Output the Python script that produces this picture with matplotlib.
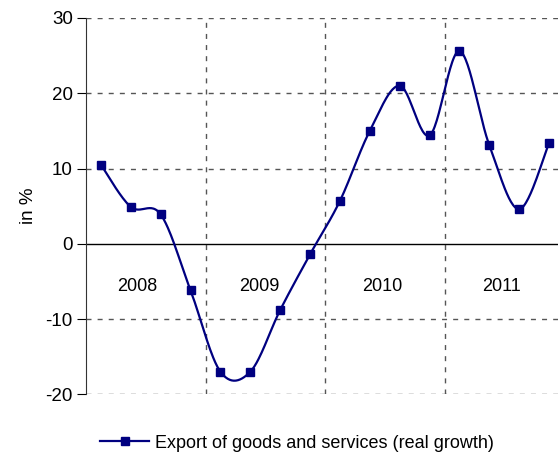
import numpy as np
import matplotlib
matplotlib.use("Agg")
import matplotlib.pyplot as plt
from matplotlib import font_manager

# quarterly real growth of exports, 2008Q1 - 2011Q4
quarters = list(range(16))
export_growth = [10.5, 4.9, 3.9, -6.2, -17.0, -17.0, -8.8, -1.4,
                 5.7, 15.0, 21.0, 14.4, 25.6, 13.1, 4.6, 13.4]
years = ["2008", "2009", "2010", "2011"]
year_label_x = [1.2, 5.3, 9.4, 13.4]
yticks = [-20, -10, 0, 10, 20, 30]
series_name = "Export of goods and services (real growth)"

names = {f.name for f in font_manager.fontManager.ttflist}
fam = [f for f in ["Liberation Sans Narrow", "Liberation Sans"] if f in names] + ["DejaVu Sans"]
plt.rcParams["font.family"] = fam
plt.rcParams["axes.unicode_minus"] = False


def smooth(x, y, n=30):
    # excel-like smoothed line (bezier through points, catmull-rom control points)
    p = np.column_stack([x, y]).astype(float)
    pp = np.vstack([p[0], p, p[-1]])
    out = []
    t = np.linspace(0, 1, n)[:, None]
    for i in range(len(p) - 1):
        p0, p1, p2, p3 = pp[i], pp[i + 1], pp[i + 2], pp[i + 3]
        b1 = p1 + (p2 - p0) / 6
        b2 = p2 - (p3 - p1) / 6
        seg = ((1 - t) ** 3) * p1 + 3 * ((1 - t) ** 2) * t * b1 + 3 * (1 - t) * t ** 2 * b2 + t ** 3 * p2
        out.append(seg if i == 0 else seg[1:])
    s = np.vstack(out)
    return s[:, 0], s[:, 1]


fig = plt.figure(figsize=(5.58, 4.57), dpi=100)
ax = fig.add_axes([86 / 558, 1 - 394.3 / 457, 478 / 558, (394.3 - 18) / 457])

grid_kw = dict(color="#555555", lw=1.0, ls=(0, (3.6, 4.4)), zorder=1)
for y in yticks:
    if y != 0:
        ax.axhline(y, **grid_kw)
for xv in [3.5, 7.5, 11.5]:
    ax.axvline(xv, **grid_kw)
ax.axhline(0, color="black", lw=1.0, zorder=2)

sx, sy = smooth(quarters, export_growth)
ax.plot(sx, sy, color="#000080", lw=1.6, zorder=3)
ax.plot(quarters, export_growth, ls="none", marker="s", ms=6, color="#000080", zorder=4)

for lab, xl in zip(years, year_label_x):
    ax.text(xl, -5.7, lab, ha="center", va="center", fontsize=13)

ax.set_xlim(-0.5, 15.5)
ax.set_ylim(-20, 30)
ax.set_yticks(yticks)
ax.set_xticks([])
ax.tick_params(axis="y", direction="out", length=6.5, width=0.8, labelsize=13.5, pad=3)
for sp in ["top", "right", "bottom"]:
    ax.spines[sp].set_visible(False)
ax.spines["left"].set_color("#333333")
ax.set_ylabel("in %", fontsize=13.5, labelpad=6)

handle = plt.Line2D([], [], color="#000080", lw=1.6, marker="s", ms=6)
fig.legend([handle], [series_name], loc="center", bbox_to_anchor=(297 / 558, 1 - 443 / 457),
           frameon=False, fontsize=13, handlelength=2.7, handletextpad=0.3)

fig.savefig("out.png", dpi=100)
